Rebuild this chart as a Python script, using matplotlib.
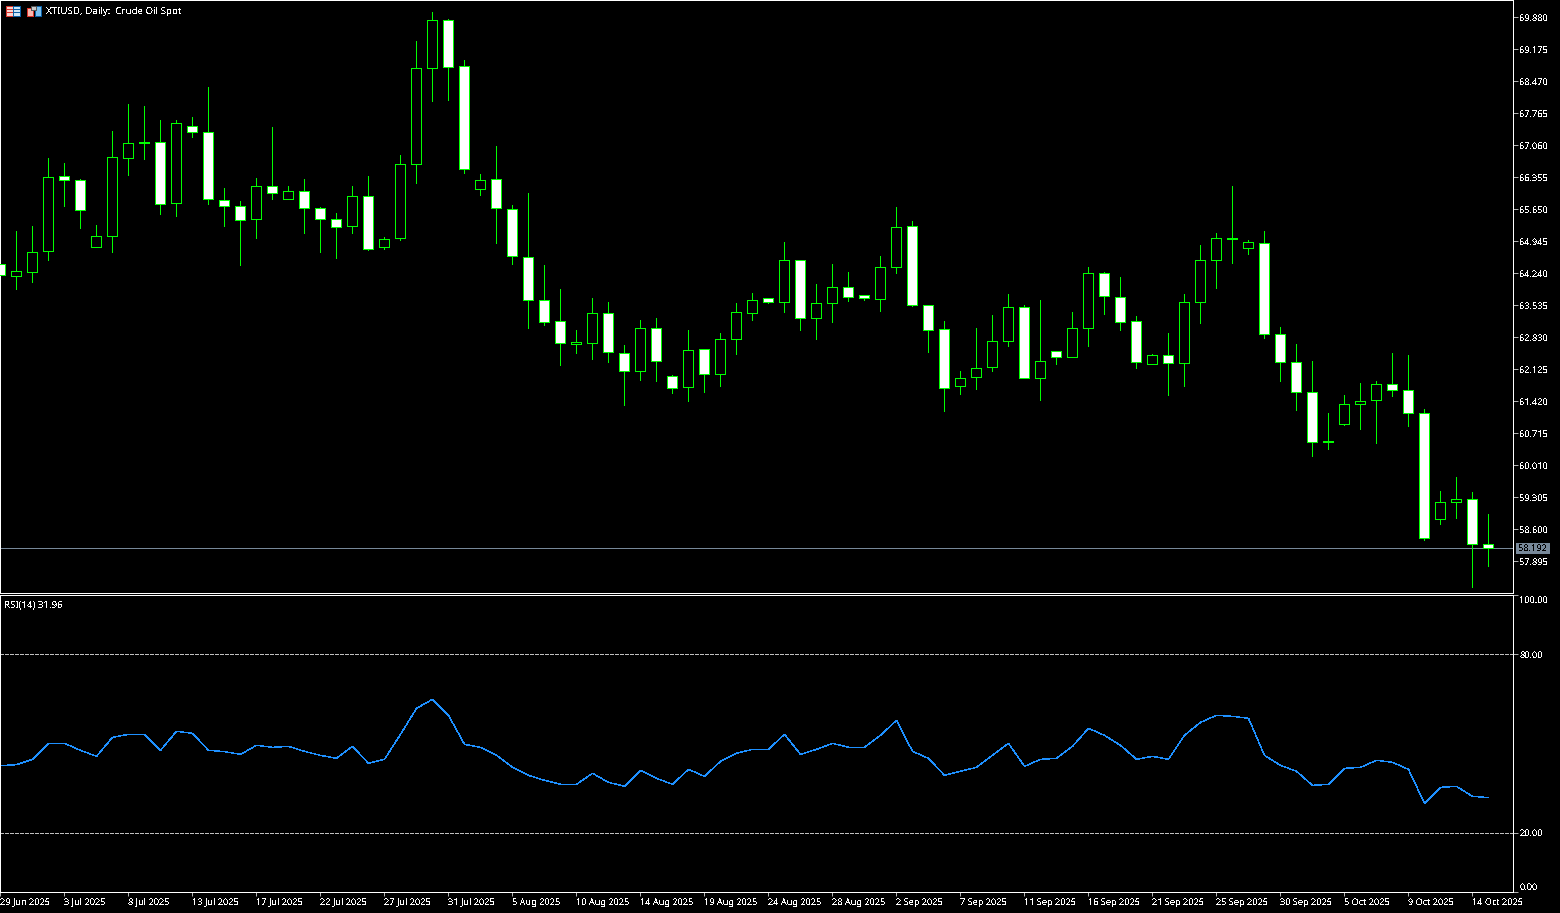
import numpy as np
import matplotlib
matplotlib.use("Agg")
import matplotlib.pyplot as plt
from matplotlib.patches import Rectangle
from matplotlib.transforms import Affine2D

plt.rcParams["font.family"] = ["Noto Sans", "DejaVu Sans"]
plt.rcParams["text.antialiased"] = False
plt.rcParams["text.hinting"] = "native"

# daily candles
opens = [64.438, 64.174, 64.262, 64.725, 66.377, 66.289, 64.813, 65.055, 66.774, 67.126,
         67.126, 65.782, 67.479, 67.346, 65.848, 65.716, 65.430, 66.157, 65.870, 66.047,
         65.672, 65.430, 65.275, 65.936, 64.813, 65.011, 66.641, 68.756, 69.814, 68.800,
         66.091, 66.311, 65.650, 64.593, 63.645, 63.182, 62.676, 62.698, 63.359, 62.477,
         62.081, 63.028, 61.971, 61.729, 62.566, 62.015, 62.786, 63.359, 63.689, 63.601,
         64.526, 63.249, 63.579, 63.931, 63.755, 63.667, 64.372, 65.275, 63.535, 63.006,
         61.751, 61.949, 62.169, 62.742, 63.491, 61.927, 62.522, 62.389, 63.028, 64.240,
         63.711, 63.182, 62.235, 62.433, 62.257, 63.601, 64.526, 65.011, 64.791, 64.901,
         62.896, 62.279, 61.618, 60.539, 60.914, 61.354, 61.442, 61.795, 61.663, 61.156,
         58.820, 59.195, 59.261, 58.270]
highs = [64.438, 65.165, 65.275, 66.774, 66.663, 66.311, 65.297, 67.368, 67.963, 67.919,
         67.611, 67.611, 67.677, 68.338, 66.113, 65.826, 66.333, 67.457, 66.157, 66.311,
         65.694, 65.562, 66.157, 66.377, 65.033, 66.840, 69.351, 69.990, 69.836, 68.933,
         66.421, 67.038, 65.738, 66.003, 64.416, 63.887, 62.984, 63.689, 63.601, 62.654,
         63.205, 63.249, 61.993, 62.984, 62.566, 62.918, 63.579, 63.799, 63.689, 64.923,
         64.526, 63.998, 64.438, 64.262, 63.755, 64.615, 65.694, 65.386, 63.535, 63.182,
         62.081, 63.028, 63.315, 63.777, 63.535, 63.645, 62.522, 63.381, 64.372, 64.262,
         64.152, 63.293, 62.455, 62.918, 63.777, 64.857, 65.121, 66.157, 64.967, 65.165,
         63.050, 62.676, 62.301, 61.156, 61.552, 61.817, 61.861, 62.477, 62.433, 61.244,
         59.437, 59.746, 59.415, 58.930]
lows = [64.196, 63.887, 64.042, 64.526, 65.716, 65.231, 64.813, 64.703, 66.399, 66.752,
        65.540, 65.496, 67.236, 65.760, 65.275, 64.416, 65.011, 65.870, 65.870, 65.121,
        64.703, 64.571, 65.121, 64.747, 64.769, 64.967, 66.223, 68.029, 68.051, 66.443,
        65.958, 64.901, 64.438, 63.028, 63.094, 62.213, 62.477, 62.345, 62.279, 61.332,
        61.883, 61.861, 61.596, 61.420, 61.618, 61.751, 62.455, 63.205, 63.579, 63.381,
        62.984, 62.786, 63.160, 63.623, 63.645, 63.403, 64.240, 63.513, 62.500, 61.200,
        61.574, 61.685, 62.081, 62.632, 61.927, 61.442, 62.235, 62.389, 62.632, 63.337,
        62.984, 62.147, 62.235, 61.552, 61.751, 63.138, 63.910, 64.460, 64.659, 62.808,
        61.861, 61.222, 60.208, 60.362, 60.892, 60.803, 60.495, 61.530, 60.869, 58.358,
        58.710, 58.842, 57.322, 57.785]
closes = [64.196, 64.284, 64.703, 66.355, 66.289, 65.628, 65.055, 66.796, 67.104, 67.104,
          65.760, 67.545, 67.346, 65.870, 65.716, 65.408, 66.157, 66.003, 66.047, 65.672,
          65.430, 65.253, 65.936, 64.769, 64.989, 66.641, 68.756, 69.814, 68.778, 66.531,
          66.289, 65.672, 64.615, 63.645, 63.160, 62.698, 62.720, 63.359, 62.500, 62.081,
          63.028, 62.301, 61.707, 62.544, 62.015, 62.786, 63.381, 63.645, 63.601, 64.526,
          63.249, 63.579, 63.931, 63.711, 63.689, 64.372, 65.253, 63.535, 62.984, 61.707,
          61.927, 62.147, 62.742, 63.491, 61.927, 62.301, 62.389, 63.028, 64.240, 63.733,
          63.160, 62.279, 62.433, 62.257, 63.601, 64.526, 65.011, 64.989, 64.923, 62.896,
          62.279, 61.618, 60.517, 60.517, 61.354, 61.420, 61.795, 61.663, 61.156, 58.402,
          59.195, 59.261, 58.270, 58.192]
rsi = [42.70, 43.04, 44.84, 50.22, 50.22, 47.87, 45.85, 52.24, 53.25, 53.25,
       47.87, 54.26, 53.59, 47.87, 47.42, 46.52, 49.55, 48.88, 49.21, 47.53,
       46.18, 45.17, 49.21, 43.49, 44.84, 53.25, 62.01, 65.04, 59.65, 49.89,
       48.88, 46.18, 42.14, 39.45, 37.77, 36.42, 36.42, 40.12, 37.09, 35.75,
       41.13, 38.44, 36.42, 41.47, 39.11, 44.16, 46.86, 48.20, 48.20, 53.25,
       46.52, 48.20, 50.22, 48.88, 48.88, 52.92, 57.97, 47.53, 45.17, 39.45,
       40.80, 42.14, 46.18, 50.22, 42.48, 44.84, 45.17, 49.21, 55.27, 52.92,
       49.55, 44.84, 45.85, 44.84, 52.92, 57.29, 59.65, 59.31, 58.64, 46.18,
       42.82, 40.80, 36.08, 36.42, 41.81, 42.14, 44.50, 43.83, 41.47, 30.02,
       35.41, 35.75, 32.38, 31.96]

price_ticks = [69.880, 69.175, 68.470, 67.765, 67.060, 66.355, 65.650, 64.945, 64.240, 63.535,
               62.830, 62.125, 61.420, 60.715, 60.010, 59.305, 58.600, 57.895]
rsi_ticks = [100, 80, 20, 0]
date_labels = ["29 Jun 2025", "3 Jul 2025", "8 Jul 2025", "13 Jul 2025", "17 Jul 2025", "22 Jul 2025",
               "27 Jul 2025", "31 Jul 2025", "5 Aug 2025", "10 Aug 2025", "14 Aug 2025", "19 Aug 2025",
               "24 Aug 2025", "28 Aug 2025", "2 Sep 2025", "7 Sep 2025", "11 Sep 2025", "16 Sep 2025",
               "21 Sep 2025", "25 Sep 2025", "30 Sep 2025", "5 Oct 2025", "9 Oct 2025", "14 Oct 2025"]
last_price = 58.192
W, H = 1560, 913
PX = 0.5  # thin enough that aliased strokes stay one pixel wide
FS = 6.6
FS_CAP = 7.0

green = "#00ff00"
white = "#ffffff"
opens = np.array(opens)
closes = np.array(closes)
x = np.arange(len(opens))
XMAX = 1513 / 16


def pixel_axes(left, right, top, bottom):
    # agg snaps strokes to pixel centres, so axes edges sit mid way in the snap range
    a = fig.add_axes([left / W, 1 - bottom / H, (right - left) / W, (bottom - top) / H])
    a.set_facecolor("black")
    for s in a.spines.values():
        s.set_color(white)
        s.set_linewidth(PX)
        s.set_antialiased(False)
    return a


fig = plt.figure(figsize=(W / 100, H / 100), dpi=100, facecolor="black")

## price window
ax = pixel_axes(0, 1513, 0, 593)
ax.set_xlim(0, XMAX)
ax.set_ylim(69.88 - 576 * 0.02203125, 69.88 + 17 * 0.02203125)

ax.vlines(x, lows, highs, color=green, lw=PX, antialiased=False, zorder=2)
bottoms = np.minimum(opens, closes)
heights = np.abs(closes - opens)
fills = [white if c < o else "black" for o, c in zip(opens, closes)]
ax.bar(x, heights, bottom=bottoms, width=0.625, color=fills, edgecolor=green, lw=PX,
       antialiased=False, zorder=3)
ax.axhline(last_price, color="#778899", lw=PX, antialiased=False, zorder=1)

ax.yaxis.tick_right()
ax.set_yticks(price_ticks)
ax.set_yticklabels(["%.3f" % p for p in price_ticks])
ax.set_xticks([])
ax.tick_params(axis="y", colors=white, length=3.6, width=PX, labelsize=FS, pad=1)

## RSI window
ax2 = pixel_axes(0, 1513, 595, 892)
ax2.set_xlim(0, XMAX)
ax2.set_ylim(0, 100)
# agg widens non-aa strokes above half a pixel to a whole one
ax2.plot(x, rsi, color="#1e90ff", lw=0.3, antialiased=False,
         transform=ax2.transData + Affine2D().translate(0.5, -0.5))
for lev in [80, 20]:
    ax2.axhline(lev, color="#c0c0c0", lw=PX, antialiased=False, dashes=(4.32, 2.88))

ax2.yaxis.tick_right()
ax2.set_yticks(rsi_ticks)
ax2.set_yticklabels(["%.2f" % v for v in rsi_ticks])
ax2.tick_params(axis="y", colors=white, length=3.6, width=PX, labelsize=FS, pad=1)
labs = ax2.get_yticklabels()
labs[0].set_va("top")
labs[0].set_transform(labs[0].get_transform() + Affine2D().translate(0, -1))
labs[-1].set_va("bottom")

ax2.set_xticks(x[::4][:len(date_labels)])
ax2.set_xticklabels(date_labels, ha="left")
ax2.tick_params(axis="x", colors=white, length=2.9, width=PX, labelsize=FS, pad=1.5)

## overlay in pixels: icons, captions, last price box
pix = fig.add_axes([0, 0, 1, 1], facecolor="none")
pix.set_xlim(0, W)
pix.set_ylim(H, 0)
pix.axis("off")

pix.text(46.5, 11.5, "XTIUSD, Daily:  Crude Oil Spot", color=white, fontsize=FS_CAP, va="center", ha="left")
pix.text(3.5, 605, "RSI(14) 31.96", color=white, fontsize=FS_CAP, va="center", ha="left")

pix.add_patch(Rectangle((1516, 543), 34, 11, facecolor="#778899", edgecolor="none"))
pix.text(1518, 548.5, "%.3f" % last_price, color="black", fontsize=FS, va="center", ha="left")

# toolbar icons
pix.add_patch(Rectangle((5.5, 6.5), 7, 10, fc="#fbd5d0", ec="#d9342b", lw=PX, antialiased=False))
pix.add_patch(Rectangle((12.5, 6.5), 7, 10, fc="#cfe6f7", ec="#0b5fa5", lw=PX, antialiased=False))
pix.hlines([9.5, 12.5], 6, 12, color="#d9342b", lw=PX, antialiased=False)
pix.hlines([9.5, 12.5], 13, 19, color="#0b5fa5", lw=PX, antialiased=False)
pix.add_patch(Rectangle((26.5, 8.5), 6, 8, fc="#f9b9b0", ec="#d9342b", lw=PX, antialiased=False))
pix.add_patch(Rectangle((34.5, 6.5), 6, 10, fc="#7cc0ee", ec="#0b5fa5", lw=PX, antialiased=False))
pix.add_patch(Rectangle((30.5, 6.5), 5, 4, fc="#c8c8c8", ec="#555555", lw=PX, antialiased=False))

plt.savefig("out.png", dpi=100, facecolor="black")
plt.close(fig)
